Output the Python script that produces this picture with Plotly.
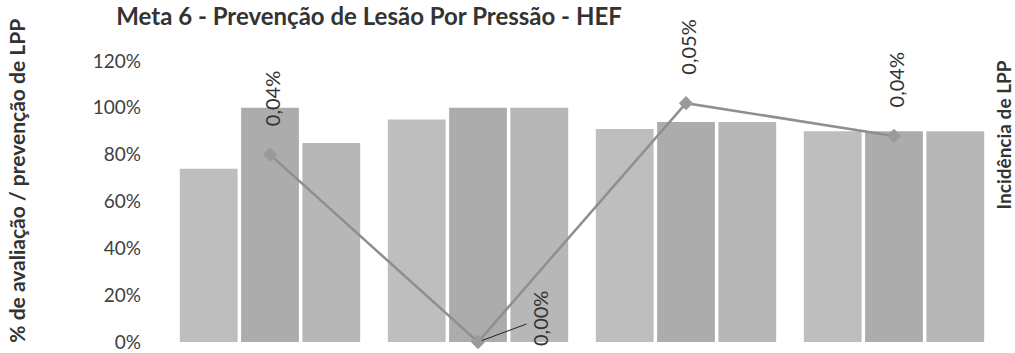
import plotly.graph_objects as go

categories = ["Período 1", "Período 2", "Período 3", "Período 4"]
serie_a = [0.74, 0.95, 0.91, 0.90]
serie_b = [1.00, 1.00, 0.94, 0.90]
serie_c = [0.85, 1.00, 0.94, 0.90]
incidencia = [0.00040, 0.00000, 0.00051, 0.00044]
y_ticks = [0, 0.2, 0.4, 0.6, 0.8, 1.0, 1.2]
y_tick_labels = ["0%", "20%", "40%", "60%", "80%", "100%", "120%"]

title_text = "Meta 6 - Prevenção de Lesão Por Pressão - HEF"
left_title = "% de avaliação / prevenção de LPP"
right_title = "Incidência de LPP"

FONT = "Lato"
bar_colors = ["#bebebe", "#acacac", "#b7b7b7"]

fig = go.Figure()
for vals, col in zip([serie_a, serie_b, serie_c], bar_colors):
    fig.add_trace(go.Bar(x=categories, y=vals, marker=dict(color=col, line=dict(width=0)),
                         showlegend=False, hoverinfo="skip"))

fig.add_trace(go.Scatter(x=categories, y=incidencia, yaxis="y2", mode="lines+markers",
                         line=dict(color="#8f8f8f", width=2.5),
                         marker=dict(symbol="diamond", size=11, color="#9a9a9a"),
                         showlegend=False, cliponaxis=False))

def fmt(v):
    return f"{v*100:.2f}%".replace(".", ",")

annotations = []
for cat, v in zip(categories, incidencia):
    if v > 0:
        annotations.append(dict(x=cat, y=v, xref="x", yref="y2", text=fmt(v), showarrow=False,
                                textangle=-90, yanchor="bottom", xanchor="center", yshift=26, xshift=2,
                                font=dict(family=FONT, size=20, color="#333333")))
    else:
        annotations.append(dict(x=cat, y=v, xref="x", yref="y2", text=fmt(v), showarrow=True,
                                arrowhead=0, arrowwidth=1, arrowcolor="#222222", ax=62, ay=-23,
                                textangle=-90, standoff=4,
                                font=dict(family=FONT, size=20, color="#333333")))

annotations.append(dict(text=left_title, xref="paper", yref="paper", x=-0.18, y=0.575,
                        showarrow=False, textangle=-90, xanchor="center", yanchor="middle",
                        font=dict(family=FONT, size=21, color="#333333", weight="bold")))
annotations.append(dict(text=right_title, xref="paper", yref="paper", x=1.006, y=0.7385,
                        showarrow=False, textangle=-90, xanchor="center", yanchor="middle",
                        font=dict(family=FONT, size=19, color="#333333", weight="bold")))

fig.update_layout(
    width=1015, height=353,
    margin=dict(l=166, r=17, t=61, b=11, autoexpand=False),
    paper_bgcolor="white", plot_bgcolor="white",
    barmode="group", bargap=0.116, bargroupgap=0.057,
    title=dict(text=title_text, x=369/1015, xanchor="center", y=1-17/353, yanchor="middle",
               font=dict(family=FONT, size=24, color="#333333", weight="bold")),
    xaxis=dict(showticklabels=False, showgrid=False, zeroline=False, showline=False, ticks="",
               automargin=False),
    yaxis=dict(range=[0, 1.2], tickvals=y_ticks, ticktext=y_tick_labels, showgrid=False,
               zeroline=False, showline=False, ticks="", ticklabelstandoff=24,
               ticklabeloverflow="allow", automargin=False,
               tickfont=dict(family=FONT, size=19, color="#404040")),
    yaxis2=dict(range=[0, 0.0006], overlaying="y", side="right", showticklabels=False,
                showgrid=False, zeroline=False, showline=False, ticks="", automargin=False),
    annotations=annotations,
)

fig.write_html("out.html", config={"displayModeBar": False},
               post_script="document.body.style.margin='0px';document.body.style.overflow='hidden';")
